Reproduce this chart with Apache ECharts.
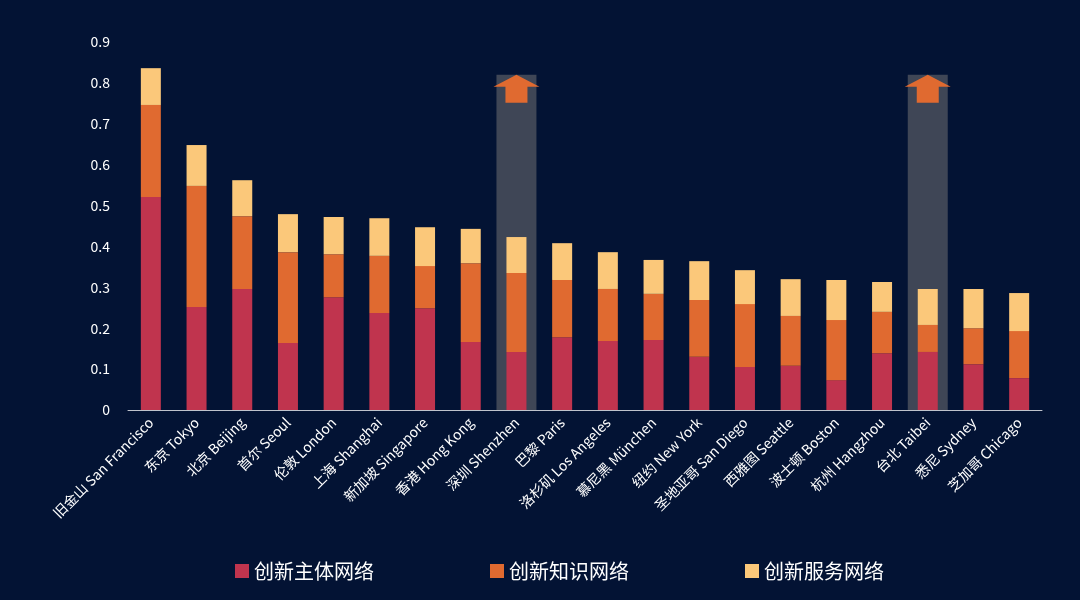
<!DOCTYPE html>
<html><head><meta charset="utf-8">
<script src="https://cdn.jsdelivr.net/npm/echarts@6/dist/echarts.min.js"></script>
<style>html,body{margin:0;background:#031334}#c{width:1080px;height:600px}</style>
</head><body><div id="c"></div>
<script>
const categories=['旧金山 San Francisco','东京 Tokyo','北京 Beijing','首尔 Seoul','伦敦 London','上海 Shanghai','新加坡 Singapore','香港 Hong Kong','深圳 Shenzhen','巴黎 Paris','洛杉矶 Los Angeles','慕尼黑 München','纽约 New York','圣地亚哥 San Diego','西雅图 Seattle','波士顿 Boston','杭州 Hangzhou','台北 Taibei','悉尼 Sydney','芝加哥 Chicago'];
const subject=[0.521,0.252,0.296,0.164,0.276,0.237,0.249,0.166,0.142,0.178,0.169,0.171,0.130,0.105,0.108,0.073,0.139,0.142,0.112,0.078];
const knowledge=[0.225,0.296,0.178,0.222,0.105,0.140,0.103,0.193,0.193,0.140,0.127,0.113,0.139,0.154,0.122,0.147,0.101,0.066,0.088,0.115];
const service=[0.090,0.100,0.088,0.093,0.091,0.092,0.095,0.084,0.088,0.090,0.090,0.083,0.095,0.083,0.090,0.098,0.073,0.088,0.096,0.093];
const highlight=['-','-','-','-','-','-','-','-',0.82,'-','-','-','-','-','-','-','-',0.82,'-','-'];
const yTicks={min:0,max:0.9,interval:0.1};
const font='"Noto Sans CJK SC","Noto Sans",sans-serif';
const chart=echarts.init(document.getElementById('c'));
const arrow='path://M0,12 L23,0 L46,12 L34,12 L34,28 L12,28 L12,12 Z';
chart.setOption({
 backgroundColor:'#031334',
 textStyle:{fontFamily:font},
 grid:{left:128,right:38,top:42,bottom:190},
 legend:{data:['创新主体网络','创新知识网络','创新服务网络'],bottom:14,left:230,itemGap:116,itemWidth:14,itemHeight:14,icon:'rect',textStyle:{color:'#fff',fontSize:20,fontFamily:font}},
 xAxis:[{type:'category',data:categories,axisTick:{show:false},axisLine:{lineStyle:{color:'#bfc3cc'}},axisLabel:{color:'#fff',fontSize:14,rotate:45,interval:0,margin:10}},
        {type:'category',data:categories,show:false}],
 yAxis:{type:'value',min:yTicks.min,max:yTicks.max,interval:yTicks.interval,splitLine:{show:false},axisLine:{show:false},axisTick:{show:false},axisLabel:{color:'#fff',fontSize:14,margin:18}},
 series:[
  {name:'hl',type:'bar',xAxisIndex:1,data:highlight,barWidth:40,itemStyle:{color:'#3f4656'},z:1,silent:true,
   markPoint:{symbol:arrow,symbolSize:[46,28],symbolOffset:[0,'50%'],itemStyle:{color:'#e06a30'},label:{show:false},
     data:[{coord:[8,0.82]},{coord:[17,0.82]}]}},
  {name:'创新主体网络',type:'bar',stack:'a',data:subject,barWidth:20,itemStyle:{color:'#c0344e'},z:3},
  {name:'创新知识网络',type:'bar',stack:'a',data:knowledge,barWidth:20,itemStyle:{color:'#e06a30'},z:3},
  {name:'创新服务网络',type:'bar',stack:'a',data:service,barWidth:20,itemStyle:{color:'#fbc87a'},z:3}
 ]
});
</script></body></html>
